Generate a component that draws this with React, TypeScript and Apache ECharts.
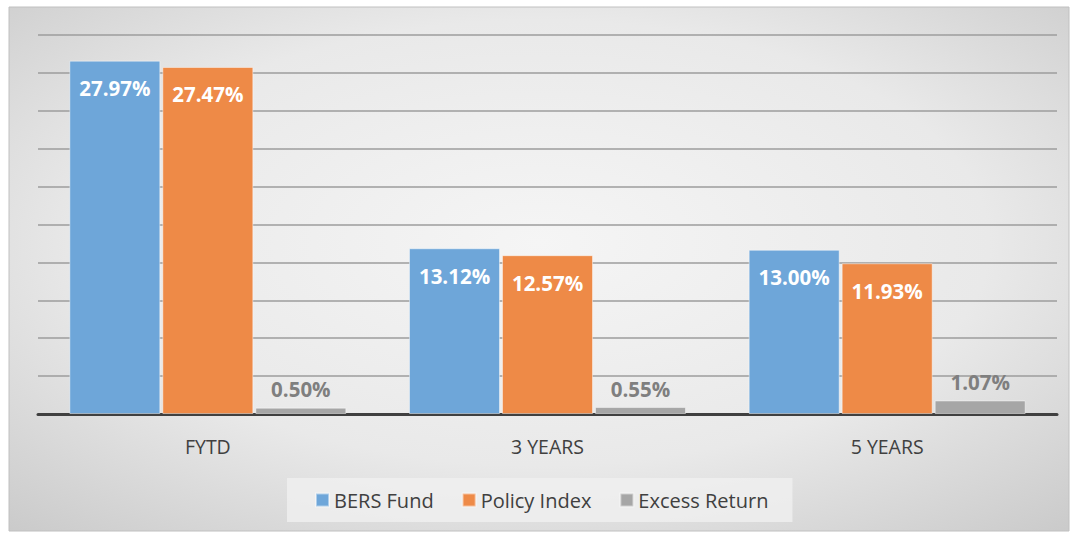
import React, { useEffect, useRef } from "react";
import * as echarts from "echarts";

const categories = ["FYTD", "3 YEARS", "5 YEARS"];
const bersFund = [27.97, 13.12, 13.0];
const policyIndex = [27.47, 12.57, 11.93];
const excessReturn = [0.5, 0.55, 1.07];
const seriesNames = ["BERS Fund", "Policy Index", "Excess Return"];

const FONT = "'Open Sans', 'Noto Sans', sans-serif";

export default function App() {
  const ref = useRef<HTMLDivElement>(null);
  useEffect(() => {
    if (!ref.current) return;
    const chart = echarts.init(ref.current, undefined, { renderer: "svg" });
    const barBase = {
      type: "bar" as const,
      barWidth: 91,
      barGap: "2.2%",
      itemStyle: { borderColor: "rgba(255,255,255,0.45)", borderWidth: 1 },
    };
    const whiteLabel = {
      show: true,
      position: "insideTop" as const,
      distance: 17,
      color: "#ffffff",
      fontFamily: FONT,
      fontWeight: "bold" as const,
      fontSize: 20.5,
      formatter: (p: any) => p.value.toFixed(2) + "%",
    };
    chart.setOption({
      animation: false,
      graphic: [
        {
          type: "rect",
          z: -10,
          silent: true,
          shape: { x: 9, y: 7, width: 1060, height: 524 },
          style: {
            fill: {
              type: "radial",
              x: 0.5,
              y: 0.45,
              r: 0.85,
              colorStops: [
                { offset: 0, color: "#f5f5f5" },
                { offset: 0.5, color: "#e9e9e9" },
                { offset: 1, color: "#c0c0c0" },
              ],
            },
            stroke: "#c0c0c0",
            lineWidth: 1,
          },
        },
      ],
      grid: { left: 38, right: 18, top: 35, bottom: 119 },
      legend: {
        data: seriesNames,
        bottom: 11,
        left: 287,
        itemWidth: 13,
        itemHeight: 13,
        itemGap: 28,
        backgroundColor: "rgba(240,240,240,0.8)",
        padding: [12, 24, 12, 28],
        textStyle: { color: "#404040", fontFamily: FONT, fontSize: 20 },
        icon: "rect",
      },
      xAxis: {
        type: "category",
        data: categories,
        axisLine: { lineStyle: { color: "#404040", width: 3 } },
        axisTick: { show: false },
        axisLabel: {
          color: "#404040",
          fontFamily: FONT,
          fontSize: 19.5,
          margin: 22,
        },
      },
      yAxis: {
        type: "value",
        min: 0,
        max: 30,
        interval: 3,
        axisLabel: { show: false },
        axisLine: { show: false },
        axisTick: { show: false },
        splitLine: { lineStyle: { color: "#9c9c9c", width: 1.5 } },
      },
      series: [
        {
          ...barBase,
          name: seriesNames[0],
          data: bersFund,
          itemStyle: { ...barBase.itemStyle, color: "#6ea6d9" },
          label: whiteLabel,
        },
        {
          ...barBase,
          name: seriesNames[1],
          data: policyIndex,
          itemStyle: { ...barBase.itemStyle, color: "#ee8a47" },
          label: whiteLabel,
        },
        {
          ...barBase,
          name: seriesNames[2],
          data: excessReturn,
          itemStyle: { ...barBase.itemStyle, color: "#a6a6a6" },
          label: {
            ...whiteLabel,
            position: "top",
            distance: 8,
            color: "#7f7f7f",
          },
        },
      ],
    });
    return () => chart.dispose();
  }, []);
  return (
    <div
      ref={ref}
      style={{ position: "absolute", left: 0, top: 0, width: 1075, height: 533 }}
    />
  );
}
